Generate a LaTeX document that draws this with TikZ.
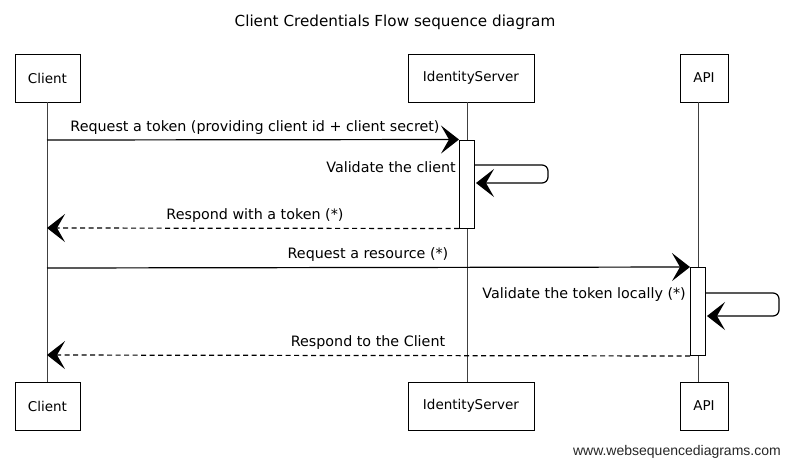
\documentclass[tikz,border=0pt]{standalone}
\usepackage{fontspec}
\setmainfont{DejaVu Sans}
\newfontfamily\wmfont{Liberation Sans}
\usetikzlibrary{arrows.meta}
\begin{document}
\begin{tikzpicture}[x=1pt,y=-1pt,
  actor/.style={draw=black, line width=1pt, fill=white, minimum height=48pt, inner sep=0pt, font=\fontsize{13.5}{15}\selectfont},
  lifeline/.style={draw=black!75, line width=0.7pt},
  bar/.style={draw=black, fill=white, line width=1pt, minimum width=15pt, inner sep=0pt},
  msg/.style={line width=1.2pt, -{Stealth[length=18pt,width=28pt,inset=8pt]}},
  reply/.style={msg, dash pattern=on 5pt off 3.5pt},
  lbl/.style={font=\fontsize{14.3}{16}\selectfont, inner sep=0pt},
]
\useasboundingbox (0,0) rectangle (790,467);

% title
\node[font=\fontsize{15.2}{17}\selectfont] (title) at (395,22) {Client Credentials Flow sequence diagram};

% participant boxes (top)
\node[actor, minimum width=65pt] (ct) at (47.5,78) {Client};
\node[actor, minimum width=126pt] (it) at (471,78) {IdentityServer};
\node[actor, minimum width=48pt] (at) at (704,78) {API};
% participant boxes (bottom)
\node[actor, minimum width=65pt] (cb) at (47.5,406) {Client};
\node[actor, minimum width=126pt] (ib) at (471,406) {IdentityServer};
\node[actor, minimum width=48pt] (ab) at (704,406) {API};

% lifeline end points
\coordinate (cl1) at (47,102);  \coordinate (cl2) at (47,382);
\coordinate (il1) at (467,102); \coordinate (il2) at (467,382);
\coordinate (al1) at (698,102); \coordinate (al2) at (698,382);

\draw[lifeline] (cl1) -- (cl2);
\draw[lifeline] (il1) -- (il2);
\draw[lifeline] (al1) -- (al2);

% activation bars
\node[bar, minimum height=88pt] (b1) at (467,184) {};
\node[bar, minimum height=88pt] (b2) at (698,311.5) {};

% messages
\coordinate (c1) at (47,140);
\draw[msg] (c1) -- (b1.north west);
\node[lbl] (l1) at (255,128) {Request a token (providing client id + client secret)};

\coordinate (s1a) at (548,165);
\coordinate (s1b) at (548,183);
\draw[msg, rounded corners=6pt] (b1.east |- s1a) -- (s1a) -- (s1b) -- ([xshift=1pt]b1.east |- s1b);
\node[lbl, anchor=east] (l2) at (456,167) {Validate the client};

\coordinate (c3) at (47,228);
\draw[reply] (b1.south west) -- (c3);
\node[lbl] (l3) at (255,216) {Respond with a token (*)};

\coordinate (c4) at (47,268);
\draw[msg] (c4) -- (b2.north west);
\node[lbl] (l4) at (368,255) {Request a resource (*)};

\coordinate (s2a) at (779,293);
\coordinate (s2b) at (779,316);
\draw[msg, rounded corners=6pt] (b2.east |- s2a) -- (s2a) -- (s2b) -- ([xshift=1pt]b2.east |- s2b);
\node[lbl, anchor=east] (l5) at (686,295) {Validate the token locally (*)};

\coordinate (c6) at (47,355);
\draw[reply] (b2.south west) -- (c6);
\node[lbl] (l6) at (368,343) {Respond to the Client};

% watermark
\node[font=\wmfont\fontsize{14}{16}\selectfont, text=black!85, anchor=east, inner sep=0pt] (wm) at (781,452) {www.websequencediagrams.com};
\end{tikzpicture}
\end{document}
